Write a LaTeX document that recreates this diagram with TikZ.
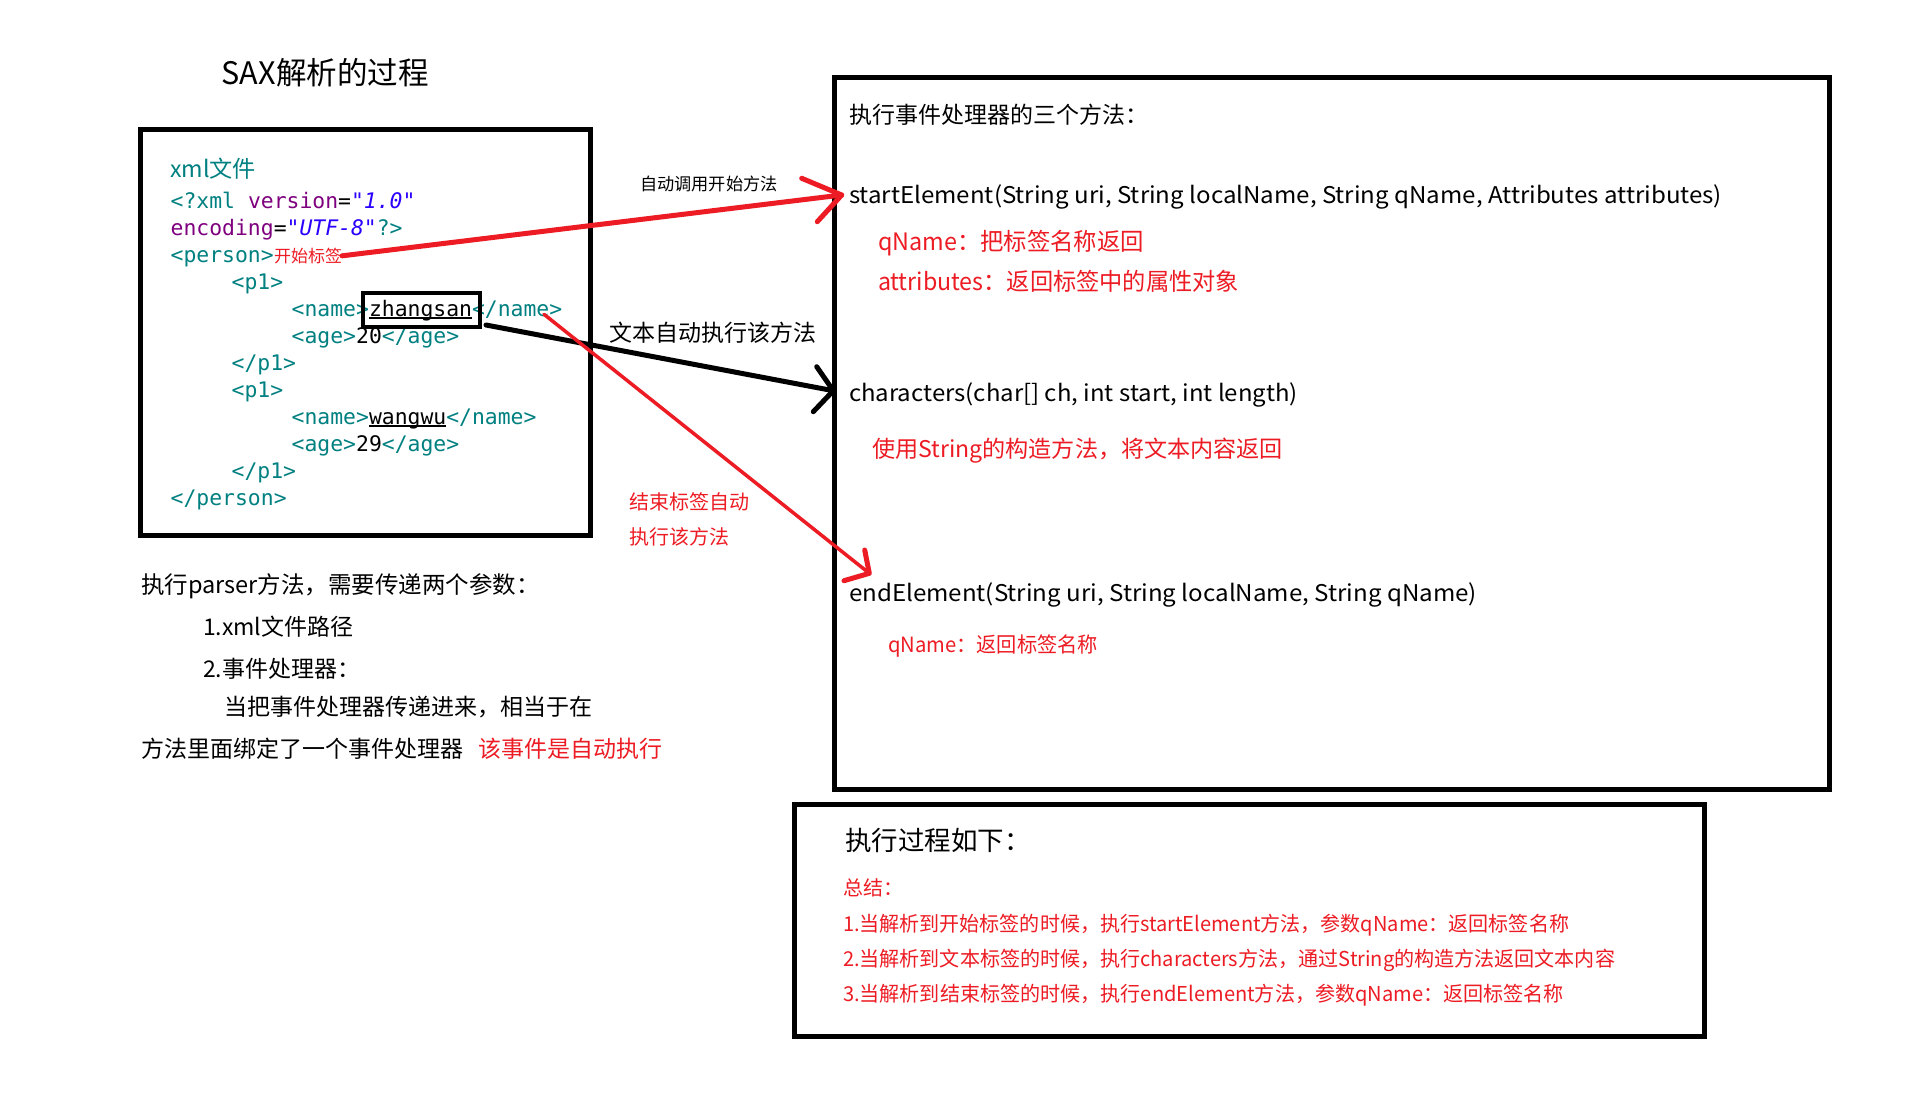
\documentclass[tikz,border=0pt]{standalone}
\usepackage{fontspec}
\setmainfont{Noto Sans CJK SC}
\newfontfamily\codefont{DejaVu Sans Mono}
\definecolor{sred}{RGB}{237,28,36}
\definecolor{xteal}{RGB}{0,128,128}
\definecolor{xpurple}{RGB}{127,0,127}
\definecolor{xblue}{RGB}{42,0,255}
\newcommand{\fs}[1]{\fontsize{#1}{#1}\selectfont}
\newcommand{\fw}[2]{\resizebox{#1pt}{\height}{#2}}
\newcommand{\ulx}[1]{\setbox0=\hbox{#1}\rlap{\rule[-2.2pt]{\wd0}{1.6pt}}\box0}
\tikzset{
  txt/.style={inner sep=0pt, outer sep=0pt, anchor=west},
  code/.style={inner sep=0pt, outer sep=0pt, anchor=base west, font=\codefont\fs{21.4}, text=xteal},
  framebox/.style={draw=black, line width=5pt, inner sep=0pt, outer sep=0pt, anchor=north west},
  redline/.style={draw=sred, line width=5pt, line cap=round, line join=round},
  blackline/.style={draw=black, line width=5pt, line cap=round, line join=round},
}
\begin{document}
\begin{tikzpicture}[x=1pt,y=-1pt]
\fill[white] (0,0) rectangle (1930,1104);
\useasboundingbox (0,0) rectangle (1930,1104);

% frames
\node[framebox, minimum width=449.5pt, minimum height=405.8pt] (xmlbox) at (140.8,129.2) {};
\node[framebox, minimum width=995pt, minimum height=712pt] (methbox) at (834.3,77.3) {};
\node[framebox, minimum width=909.8pt, minimum height=231.7pt] (procbox) at (794.2,804.3) {};

% title
\node[txt] (title) at (221.7,72.5) {\fw{207}{\fs{31}SAX解析的过程}};

% xml file
\node[txt, text=xteal] (xmlfile) at (170,168.3) {\fw{86}{\fs{23}xml文件}};
\node[code] (c1) at (170.7,208.3) {<?xml {\color{xpurple}version}{\color{black}=}{\color{xblue}\itshape "1.0"}};
\node[code] (c2) at (170.7,235.3) {{\color{xpurple}encoding}{\color{black}=}{\color{xblue}\itshape "UTF-8"}?>};
\node[code] (c3) at (170.7,262.3) {<person>};
\node[inner sep=0pt, outer sep=0pt, anchor=base west, text=sred, font=\fs{17}] (tagstart) at (274,262.3) {开始标签};
\node[code] (c4) at (231.7,289.3) {<p1>};
\node[code] (c5) at (291.7,316.3) {<name>{\color{black}\ulx{zhangsan}}</name>};
\node[code] (c6) at (291.7,343.3) {<age>{\color{black}20}</age>};
\node[code] (c7) at (231.7,370.3) {</p1>};
\node[code] (c8) at (231.7,397.3) {<p1>};
\node[code] (c9) at (291.7,424.3) {<name>{\color{black}\ulx{wangwu}}</name>};
\node[code] (c10) at (291.7,451.3) {<age>{\color{black}29}</age>};
\node[code] (c11) at (231.7,478.3) {</p1>};
\node[code] (c12) at (170.7,505.3) {</person>};
\node[draw=black, line width=4pt, inner sep=0pt, outer sep=0pt, anchor=north west, minimum width=117pt, minimum height=34pt] (zs) at (363,293) {};

% labels between
\node[txt] (autolabel) at (640,184) {\fs{17.2}自动调用开始方法};
\node[txt] (textlabel) at (609,333) {\fs{23}文本自动执行该方法};
\node[txt, text=sred] (endlabelA) at (629,502) {\fs{20}结束标签自动};
\node[txt, text=sred] (endlabelB) at (629,537) {\fs{20}执行该方法};

% methods box
\node[txt] (mhead) at (849,115) {\fs{23}执行事件处理器的三个方法：};
\node[txt] (se) at (849,196.7) {\fw{873}{\fs{23}startElement(String uri, String localName, String qName, Attributes attributes)}};
\node[txt, text=sred] (qn1) at (878,243) {\fw{266}{\fs{24}qName：把标签名称返回}};
\node[txt, text=sred] (at1) at (878,281.7) {\fw{361}{\fs{24}attributes：返回标签中的属性对象}};
\node[txt] (ch) at (849,395) {\fw{449}{\fs{23}characters(char[] ch, int start, int length)}};
\node[txt, text=sred] (us) at (872,450.7) {\fw{411}{\fs{23}使用String的构造方法，将文本内容返回}};
\node[txt] (ee) at (849,595) {\fw{628}{\fs{23}endElement(String uri, String localName, String qName)}};
\node[txt, text=sred] (qn2) at (888,646) {\fw{210}{\fs{21}qName：返回标签名称}};

% left explanation
\node[txt] (p1) at (141,586.7) {\fs{23.5}执行parser方法，需要传递两个参数：};
\node[txt] (p2) at (203,626.7) {\fs{23}1.xml文件路径};
\node[txt] (p3) at (203,668.3) {\fs{23}2.事件处理器：};
\node[txt] (p4) at (224,706.7) {\fs{23}当把事件处理器传递进来，相当于在};
\node[txt] (p5) at (141,748.3) {\fs{23}方法里面绑定了一个事件处理器};
\node[txt, text=sred] (p6) at (478,748.3) {\fs{23}该事件是自动执行};

% process box
\node[txt] (phead) at (845,840) {\fs{26.5}执行过程如下：};
\node[txt, text=sred] (sum) at (843,888) {\fs{20}总结：};
\node[txt, text=sred] (s1) at (843,925) {\fw{726}{\fs{20.5}1.当解析到开始标签的时候，执行startElement方法，参数qName：返回标签名称}};
\node[txt, text=sred] (s2) at (843,960) {\fw{772}{\fs{20.5}2.当解析到文本标签的时候，执行characters方法，通过String的构造方法返回文本内容}};
\node[txt, text=sred] (s3) at (843,995) {\fw{721}{\fs{20.5}3.当解析到结束标签的时候，执行endElement方法，参数qName：返回标签名称}};

% arrow coordinates
\coordinate (tip1) at (841.7,195);
\coordinate (a1u) at (801.7,178.3);
\coordinate (a1l) at (817.3,221.7);
\coordinate (b0) at (486,325);
\coordinate (tip2) at (833.3,390.7);
\coordinate (a2u) at (816.7,366.7);
\coordinate (a2l) at (813.3,411.7);
\coordinate (r0) at (544,314.3);
\coordinate (tip3) at (869.3,573.3);
\coordinate (a3u) at (864.7,550);
\coordinate (a3l) at (844,580.7);

% arrows
\draw[redline] (tagstart.east) -- (tip1);
\draw[redline] (a1u) -- (tip1) -- (a1l);
\draw[blackline] (b0) -- (tip2);
\draw[blackline] (a2u) -- (tip2) -- (a2l);
\draw[redline, line width=3.5pt] (r0) -- (tip3);
\draw[redline] (a3u) -- (tip3) -- (a3l);
\end{tikzpicture}
\end{document}
